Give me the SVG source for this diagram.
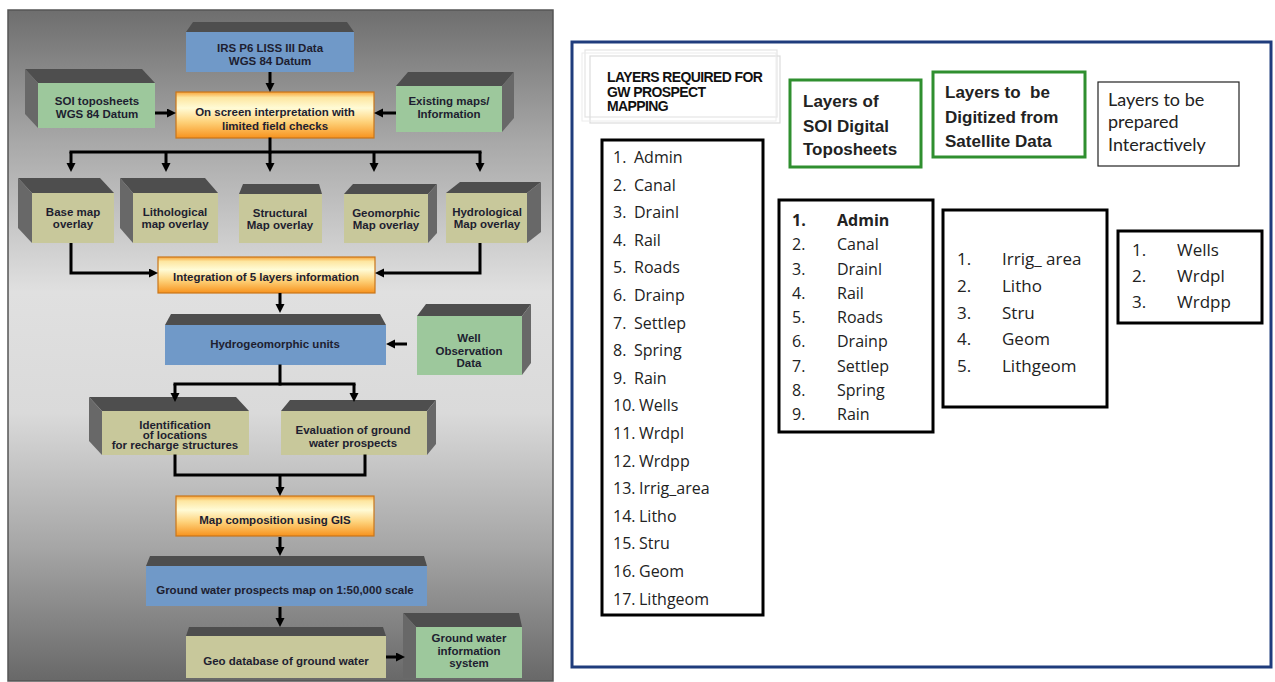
<svg xmlns="http://www.w3.org/2000/svg" width="1275" height="682" viewBox="0 0 1275 682">
<defs>
<linearGradient id="panelBg" x1="0" y1="0" x2="0" y2="1">
<stop offset="0" stop-color="#6e6e6e"/>
<stop offset="0.2" stop-color="#a9a9a9"/>
<stop offset="0.42" stop-color="#e0e0e0"/>
<stop offset="0.6" stop-color="#dadada"/>
<stop offset="0.8" stop-color="#a6a6a6"/>
<stop offset="1" stop-color="#686868"/>
</linearGradient>
<linearGradient id="orangeG" x1="0" y1="0" x2="0" y2="1">
<stop offset="0" stop-color="#f8a53a"/>
<stop offset="0.12" stop-color="#fde6a0"/>
<stop offset="0.35" stop-color="#fffbd6"/>
<stop offset="0.65" stop-color="#fed27a"/>
<stop offset="1" stop-color="#f7931e"/>
</linearGradient>
<marker id="ah" markerUnits="userSpaceOnUse" markerWidth="10" markerHeight="10" refX="4" refY="4.5" orient="auto">
<path d="M0,0 L9,4.5 L0,9 z" fill="#000"/>
</marker>
<style>
.lt{font-family:"Liberation Sans",Arial,sans-serif;font-weight:bold;font-size:11.5px;fill:#1e1e30;text-anchor:middle}
.blue{fill:#7099c8}
.green{fill:#9dc89c}
.khaki{fill:#c8c89b}
.orange{fill:url(#orangeG);stroke:#c9761a;stroke-width:1.2}
.topf{fill:#4e4e4e}
.side{fill:#686868}
.ar{fill:none;stroke:#000;stroke-width:3;marker-end:url(#ah)}
.ln{fill:none;stroke:#000;stroke-width:3;stroke-linecap:square;stroke-linejoin:miter}
.lst{fill:none;stroke:#000;stroke-width:3}
.li{font-family:"Open Sans","Liberation Sans",sans-serif;font-size:16px;fill:#222}
.li17{font-family:"Open Sans","Liberation Sans",sans-serif;font-size:17px;fill:#222}
.hb{font-family:"Liberation Sans",Arial,sans-serif;font-weight:bold;font-size:17px;fill:#222}
.gbox{fill:#fff;stroke:#2f8f2f;stroke-width:3}
</style>
</defs>

<rect x="0" y="0" width="1275" height="682" fill="#fff"/>

<!-- Left panel -->
<g id="left-panel">
<rect x="8" y="10" width="545" height="671" fill="url(#panelBg)" stroke="#555" stroke-width="1.5"/>
</g>

<g id="irs">
<polygon class="topf" points="193,22 347,22 354,32 186,32"/>
<rect class="blue" x="186" y="32" width="168" height="40"/>
<text class="lt" x="270" y="52">IRS P6 LISS III Data</text>
<text class="lt" x="270" y="65">WGS 84 Datum</text>
</g>

<g id="soi">
<polygon class="topf" points="25,69 142,69 155,83 38,83"/>
<polygon class="side" points="25,69 38,83 38,128 25,114"/>
<rect class="green" x="38" y="83" width="117" height="45"/>
<text class="lt" x="97" y="105">SOI toposheets</text>
<text class="lt" x="97" y="118">WGS 84 Datum</text>
</g>

<g id="interp">
<rect class="orange" x="176" y="92" width="198" height="46"/>
<text class="lt" x="275" y="116">On screen interpretation with</text>
<text class="lt" x="275" y="130">limited field checks</text>
</g>

<g id="existing">
<polygon class="topf" points="396,86 408,72 514,72 502,86"/>
<polygon class="side" points="502,86 514,72 514,118 502,132"/>
<rect class="green" x="396" y="86" width="106" height="46"/>
<text class="lt" x="449" y="105">Existing maps/</text>
<text class="lt" x="449" y="118">Information</text>
</g>

<g id="basemap">
<polygon class="topf" points="18,178 100,178 114,193 32,193"/>
<polygon class="side" points="18,178 32,193 32,243 18,228"/>
<rect class="khaki" x="32" y="193" width="82" height="50"/>
<text class="lt" x="73" y="216">Base map</text>
<text class="lt" x="73" y="228">overlay</text>
</g>

<g id="litho">
<polygon class="topf" points="120,178 205,178 218,193 133,193"/>
<polygon class="side" points="120,178 133,193 133,243 120,228"/>
<rect class="khaki" x="133" y="193" width="85" height="50"/>
<text class="lt" x="175" y="216">Lithological</text>
<text class="lt" x="175" y="228">map overlay</text>
</g>

<g id="struct">
<polygon class="topf" points="243,184 319,184 322,194 239,194"/>
<rect class="khaki" x="239" y="194" width="83" height="49"/>
<text class="lt" x="280" y="217">Structural</text>
<text class="lt" x="280" y="229">Map overlay</text>
</g>

<g id="geomorph">
<polygon class="topf" points="344,194 353,184 437,184 428,194"/>
<polygon class="side" points="428,194 437,184 437,233 428,243"/>
<rect class="khaki" x="344" y="194" width="84" height="49"/>
<text class="lt" x="386" y="217">Geomorphic</text>
<text class="lt" x="386" y="229">Map overlay</text>
</g>

<g id="hydrol">
<polygon class="topf" points="446,193 460,182 541,182 527,193"/>
<polygon class="side" points="527,193 541,182 541,232 527,243"/>
<rect class="khaki" x="446" y="193" width="81" height="50"/>
<text class="lt" x="487" y="216">Hydrological</text>
<text class="lt" x="487" y="228">Map overlay</text>
</g>

<g id="integration">
<rect class="orange" x="158" y="257" width="217" height="36"/>
<text class="lt" x="266" y="281">Integration of 5 layers information</text>
</g>

<g id="hydrogeo">
<polygon class="topf" points="171,314 380,314 386,325 165,325"/>
<rect class="blue" x="165" y="325" width="221" height="40"/>
<text class="lt" x="275" y="348">Hydrogeomorphic units</text>
</g>

<g id="well">
<polygon class="topf" points="417,316 426,304 531,304 522,316"/>
<polygon class="side" points="522,316 531,304 531,363 522,375"/>
<rect class="green" x="417" y="316" width="105" height="59"/>
<text class="lt" x="469" y="342">Well</text>
<text class="lt" x="469" y="355">Observation</text>
<text class="lt" x="469" y="367">Data</text>
</g>

<g id="identification">
<polygon class="topf" points="89,397 236,397 249,411 102,411"/>
<polygon class="side" points="89,397 102,411 102,455 89,441"/>
<rect class="khaki" x="102" y="411" width="147" height="44"/>
<text class="lt" x="175" y="429">Identification</text>
<text class="lt" x="175" y="439">of locations</text>
<text class="lt" x="175" y="449">for recharge structures</text>
</g>

<g id="evaluation">
<polygon class="topf" points="281,411 290,400 436,400 427,411"/>
<polygon class="side" points="427,411 436,400 436,444 427,455"/>
<rect class="khaki" x="281" y="411" width="146" height="44"/>
<text class="lt" x="353" y="434">Evaluation of ground</text>
<text class="lt" x="353" y="447">water prospects</text>
</g>

<g id="mapcomp">
<rect class="orange" x="176" y="496" width="198" height="40"/>
<text class="lt" x="275" y="524">Map composition using GIS</text>
</g>

<g id="gwmap">
<polygon class="topf" points="150,556 424,556 427,566 146,566"/>
<rect class="blue" x="146" y="566" width="281" height="40"/>
<text class="lt" x="285" y="594">Ground water prospects map on 1:50,000 scale</text>
</g>

<g id="geodb">
<polygon class="topf" points="189,627 383,627 386,636 186,636"/>
<rect class="khaki" x="186" y="636" width="200" height="42"/>
<text class="lt" x="286" y="665">Geo database of ground water</text>
</g>

<g id="gwis">
<polygon class="topf" points="403,613 519,613 522,627 416,627"/>
<polygon class="side" points="403,613 416,627 416,678 403,678"/>
<rect class="green" x="416" y="627" width="106" height="51"/>
<text class="lt" x="469" y="642">Ground water</text>
<text class="lt" x="469" y="655">information</text>
<text class="lt" x="469" y="667">system</text>
</g>

<g id="connectors">
<path class="ar" d="M270,72 V87"/>
<path class="ar" d="M155,113 H171"/>
<path class="ar" d="M396,113 H379"/>
<path class="ln" d="M270,139 V152"/>
<path class="ln" d="M71,152 H480"/>
<path class="ar" d="M71,152 V167"/>
<path class="ar" d="M166,152 V167"/>
<path class="ar" d="M270,152 V167"/>
<path class="ar" d="M374,152 V167"/>
<path class="ar" d="M480,152 V167"/>
<path class="ar" d="M71,243 V273 H153" stroke-linejoin="miter"/>
<path class="ar" d="M480,243 V273 H380" stroke-linejoin="miter"/>
<path class="ar" d="M280,293 V308"/>
<path class="ar" d="M407,344 H391"/>
<path class="ln" d="M280,366 V384"/>
<path class="ln" d="M175,384 H354"/>
<path class="ar" d="M175,384 V397"/>
<path class="ar" d="M354,384 V397"/>
<path class="ln" d="M175,456 V475 H365 V456"/>
<path class="ar" d="M280,475 V491"/>
<path class="ar" d="M280,537 V551"/>
<path class="ar" d="M280,607 V622"/>
<path class="ar" d="M386,657 H400"/>
</g>

<!-- Right panel -->
<g id="right-frame">
<rect x="572" y="42" width="699" height="625" fill="#fff" stroke="#1f3c7c" stroke-width="3"/>
</g>

<g id="title-box">
<rect x="585" y="50" width="192" height="67" fill="none" stroke="#e4e4e4" stroke-width="1.2"/>
<rect x="590" y="56" width="190" height="67" fill="none" stroke="#dcdcdc" stroke-width="1.2"/>
<rect x="582" y="53" width="194" height="68" fill="none" stroke="#ececec" stroke-width="1"/>
<g font-family="Liberation Sans, Arial, sans-serif" font-weight="bold" font-size="14" fill="#111" letter-spacing="-0.6">
<text x="607" y="82">LAYERS REQUIRED FOR</text>
<text x="607" y="97">GW PROSPECT</text>
<text x="607" y="111">MAPPING</text>
</g>
</g>

<g id="soi-header">
<rect class="gbox" x="790" y="80" width="131" height="87"/>
<text class="hb" x="803" y="107">Layers of</text>
<text class="hb" x="803" y="132">SOI Digital</text>
<text class="hb" x="803" y="155">Toposheets</text>
</g>

<g id="sat-header">
<rect class="gbox" x="933" y="72" width="152" height="85"/>
<text class="hb" x="945" y="98" xml:space="preserve">Layers to  be</text>
<text class="hb" x="945" y="123">Digitized from</text>
<text class="hb" x="945" y="147">Satellite Data</text>
</g>

<g id="inter-header">
<rect x="1098" y="82" width="141" height="84" fill="#fff" stroke="#222" stroke-width="1.2"/>
<g font-family="Lato, 'Open Sans', sans-serif" font-size="18" fill="#222">
<text x="1108" y="106">Layers to be</text>
<text x="1108" y="128">prepared</text>
<text x="1108" y="151">Interactively</text>
</g>
</g>

<g id="list-all">
<rect class="lst" x="602" y="140" width="161" height="475"/>
<g class="li">
<text x="613" y="163">1.</text><text x="634" y="163">Admin</text>
<text x="613" y="190.6">2.</text><text x="634" y="190.6">Canal</text>
<text x="613" y="218.2">3.</text><text x="634" y="218.2">Drainl</text>
<text x="613" y="245.8">4.</text><text x="634" y="245.8">Rail</text>
<text x="613" y="273.4">5.</text><text x="634" y="273.4">Roads</text>
<text x="613" y="301">6.</text><text x="634" y="301">Drainp</text>
<text x="613" y="328.6">7.</text><text x="634" y="328.6">Settlep</text>
<text x="613" y="356.2">8.</text><text x="634" y="356.2">Spring</text>
<text x="613" y="383.8">9.</text><text x="634" y="383.8">Rain</text>
<text x="613" y="411.4">10.</text><text x="639" y="411.4">Wells</text>
<text x="613" y="439">11.</text><text x="639" y="439">Wrdpl</text>
<text x="613" y="466.6">12.</text><text x="639" y="466.6">Wrdpp</text>
<text x="613" y="494.2">13.</text><text x="639" y="494.2">Irrig_area</text>
<text x="613" y="521.8">14.</text><text x="639" y="521.8">Litho</text>
<text x="613" y="549.4">15.</text><text x="639" y="549.4">Stru</text>
<text x="613" y="577">16.</text><text x="639" y="577">Geom</text>
<text x="613" y="604.6">17.</text><text x="639" y="604.6">Lithgeom</text>
</g>
</g>

<g id="list-soi">
<rect class="lst" x="779" y="200" width="154" height="232"/>
<g class="li">
<text x="792" y="226" font-weight="bold">1.</text><text x="837" y="226" font-weight="bold">Admin</text>
<text x="792" y="250.3">2.</text><text x="837" y="250.3">Canal</text>
<text x="792" y="274.5">3.</text><text x="837" y="274.5">Drainl</text>
<text x="792" y="298.8">4.</text><text x="837" y="298.8">Rail</text>
<text x="792" y="323">5.</text><text x="837" y="323">Roads</text>
<text x="792" y="347.3">6.</text><text x="837" y="347.3">Drainp</text>
<text x="792" y="371.5">7.</text><text x="837" y="371.5">Settlep</text>
<text x="792" y="395.8">8.</text><text x="837" y="395.8">Spring</text>
<text x="792" y="420">9.</text><text x="837" y="420">Rain</text>
</g>
</g>

<g id="list-sat">
<rect class="lst" x="943" y="210" width="164" height="197"/>
<g class="li17">
<text x="957" y="265">1.</text><text x="1002" y="265" xml:space="preserve">Irrig_ area</text>
<text x="957" y="291.8">2.</text><text x="1002" y="291.8">Litho</text>
<text x="957" y="318.5">3.</text><text x="1002" y="318.5">Stru</text>
<text x="957" y="345.3">4.</text><text x="1002" y="345.3">Geom</text>
<text x="957" y="372">5.</text><text x="1002" y="372">Lithgeom</text>
</g>
</g>

<g id="list-inter">
<rect class="lst" x="1118" y="231" width="144" height="92"/>
<g class="li17">
<text x="1132" y="256">1.</text><text x="1177" y="256">Wells</text>
<text x="1132" y="282">2.</text><text x="1177" y="282">Wrdpl</text>
<text x="1132" y="308">3.</text><text x="1177" y="308">Wrdpp</text>
</g>
</g>
</svg>
